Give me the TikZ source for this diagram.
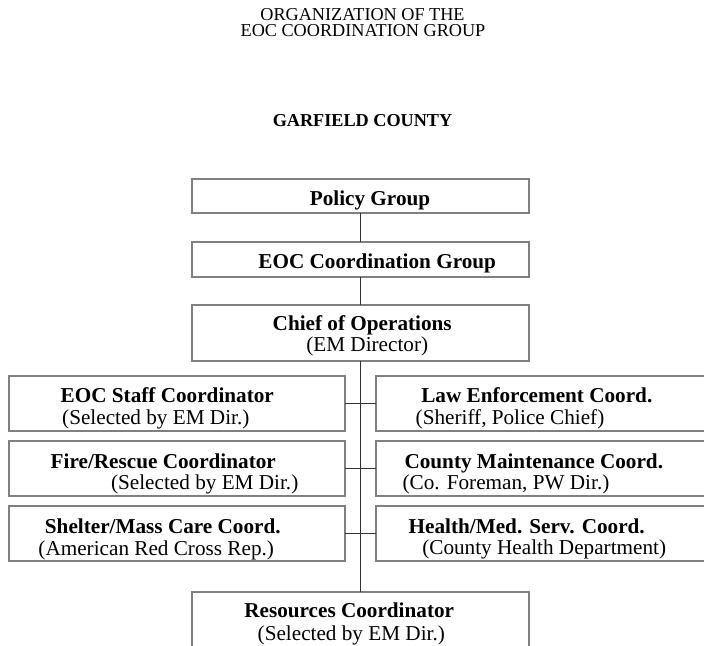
\documentclass[tikz,border=0pt]{standalone}
\usepackage{fontspec}
\setmainfont{Liberation Serif}
\begin{document}
\begin{tikzpicture}[x=0.5pt,y=-0.5pt,inner sep=0pt,outer sep=0pt,
orgbox/.style={draw=gray,line width=1pt,rectangle,minimum width=168.15pt,minimum height=27.75pt},
midbox/.style={orgbox,minimum width=168.65pt},
head/.style={anchor=base,font=\fontsize{10.6}{12}\selectfont\bfseries},
sub/.style={anchor=base,font=\fontsize{10.6}{12}\selectfont},
title/.style={anchor=base,font=\fontsize{9.1}{11}\selectfont},
wire/.style={draw=black!80,line width=0.75pt}]

\useasboundingbox (0,0) rectangle (704,645);
\clip (0,0) rectangle (704,645);

%%% Titles %%%%%
\node[title] (t1) at (362.5,20.5) {ORGANIZATION OF THE};
\node[title] (t2) at (363,36.7) {EOC COORDINATION GROUP};
\node[title,font=\fontsize{9.1}{11}\selectfont\bfseries] (t3) at (362.5,126) {GARFIELD COUNTY};

%%% Center column %%%%%
\draw (360.65,196) node[midbox,minimum height=16.7pt] (PG) {};
\draw (360.65,259.2) node[midbox,minimum height=17.5pt] (EOC) {};
\draw (360.65,332.85) node[midbox] (CO) {};
\draw (360.65,619.5) node[midbox] (RC) {};

	%%% Left of center line
	\draw (176.85,403.7) node[orgbox] (SC) {};
	\draw (176.85,468.5) node[orgbox] (FR) {};
	\draw (176.85,533.4) node[orgbox] (SH) {};
	%%% Right of center line
	\draw (543.85,403.7) node[orgbox] (LE) {};
	\draw (543.85,468.5) node[orgbox] (CM) {};
	\draw (543.85,533.4) node[orgbox] (HM) {};
%%%%%%%%%%%%%%%%%%%%%%%%%

%%% Box texts
\node[head] (PGa) at (370,205) {Policy Group};
\node[head] (EOCa) at (377.2,268.5) {EOC Coordination Group};
\node[head] (COa) at (362.2,330.7) {Chief of Operations};
\node[sub] (COb) at (367.2,351.5) {(EM Director)};
\node[head] (SCa) at (167.3,402.5) {EOC Staff Coordinator};
\node[sub] (SCb) at (155.8,424) {(Selected by EM Dir.)};
\node[head] (FRa) at (163.3,468) {Fire/Rescue Coordinator};
\node[sub] (FRb) at (204.7,489.3) {(Selected by EM Dir.)};
\node[head] (SHa) at (162.8,533.3) {Shelter/Mass Care Coord.};
\node[sub] (SHb) at (156.2,555) {(American Red Cross Rep.)};
\node[head] (LEa) at (536.8,402.5) {Law Enforcement Coord.};
\node[sub] (LEb) at (510,424) {(Sheriff, Police Chief)};
\node[head] (CMa) at (533.8,468) {County Maintenance Coord.};
\node[sub] (CMb) at (506,489.3) {(Co. Foreman, PW Dir.)};
\node[head] (HMa) at (526.7,533.3) {Health/Med. Serv. Coord.};
\node[sub] (HMb) at (544.2,554.5) {(County Health Department)};
\node[head] (RCa) at (349.2,617.3) {Resources Coordinator};
\node[sub] (RCb) at (351.3,640) {(Selected by EM Dir.)};

%%% Center line connections
\draw[wire] (PG) -- (EOC);
\draw[wire] (EOC) -- (CO);
\draw[wire] (CO) -- (RC);

%%% Side connections
\draw[wire] (SC) -- (LE);
\draw[wire] (FR) -- (CM);
\draw[wire] (SH) -- (HM);

\end{tikzpicture}
\end{document}
